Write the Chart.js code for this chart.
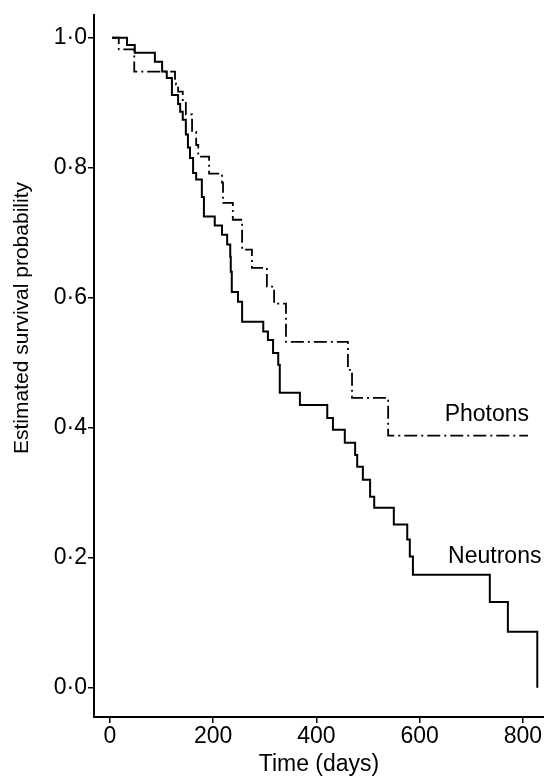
<!DOCTYPE html>
<html>
<head>
<meta charset="utf-8">
<script src="https://cdn.jsdelivr.net/npm/chart.js@4.4.1/dist/chart.umd.min.js"></script>
<style>
    body { margin: 0; background: #fff; }
    #wrap { width: 544px; height: 778px; }
</style>
</head>
<body>
<div id="wrap"><canvas id="survChart" width="544" height="778"></canvas></div>
<script>
// survival curves (time in days, estimated survival)
const neutronDays = [4, 33, 48, 87, 101, 110, 120, 132, 136, 141, 147, 151, 155, 161, 167, 178, 182, 203, 217, 227,
    233, 234, 236, 248, 256, 297, 306, 316, 326, 329, 368, 421, 432, 455, 475, 479, 490, 504, 512, 550,
    576, 581, 587, 736, 771, 828]
const neutronSurv = [1.0, 0.989, 0.977, 0.963, 0.948, 0.938, 0.912, 0.898, 0.886, 0.874, 0.851, 0.831, 0.815, 0.792, 0.782, 0.755, 0.725, 0.711, 0.697, 0.682,
    0.663, 0.640, 0.609, 0.594, 0.563, 0.548, 0.535, 0.515, 0.497, 0.454, 0.435, 0.415, 0.397, 0.377, 0.358, 0.340, 0.320, 0.294, 0.277, 0.251,
    0.228, 0.202, 0.174, 0.132, 0.086, 0.0]

const photonDays = [4, 17, 47, 126, 128, 132, 141, 147, 159, 167, 171, 192, 217, 219, 238, 256, 275, 304, 318, 341,
    461, 469, 539, 810]
const photonSurv = [1.0, 0.982, 0.948, 0.935, 0.928, 0.917, 0.902, 0.882, 0.855, 0.835, 0.817, 0.791, 0.777, 0.746, 0.72, 0.674, 0.646, 0.617, 0.591, 0.532,
    0.489, 0.446, 0.388, 0.388]

const seriesNames = ['Neutrons', 'Photons']
// where the curve names sit (days, survival), right aligned
const nameDays = [836, 812]
const nameSurv = [0.192, 0.41]

const xTicks = [0, 200, 400, 600, 800]
const yTicks = [0, 0.2, 0.4, 0.6, 0.8, 1.0]
const xTitle = 'Time (days)'
const yTitle = 'Estimated survival probability'

const FONT = 'Liberation Sans, Arial, Helvetica, sans-serif'

function toPoints(days, surv) {
    return days.map((d, i) => ({x: d, y: surv[i]}))
}

// curve names + rotated y title
const textPlugin = {
    id: 'textPlugin',
    afterDraw(chart) {
        let ctx = chart.ctx
        let xs = chart.scales.x
        let ys = chart.scales.y
        ctx.save()
        ctx.fillStyle = '#000'
        ctx.font = '23px ' + FONT
        ctx.textAlign = 'right'
        ctx.textBaseline = 'alphabetic'
        for (let i in seriesNames) {
            ctx.fillText(seriesNames[i], xs.getPixelForValue(nameDays[i]), ys.getPixelForValue(nameSurv[i]))
        }
        ctx.translate(22, 318)
        ctx.rotate(-Math.PI / 2)
        ctx.textAlign = 'center'
        ctx.textBaseline = 'middle'
        ctx.font = '21px ' + FONT
        ctx.fillText(yTitle, 0, 0)
        ctx.restore()
    }
}

const config = {
    type: 'line',
    data: {
        datasets: [
            {
                label: seriesNames[0],
                data: toPoints(neutronDays, neutronSurv),
                stepped: 'before',
                borderColor: '#000',
                borderWidth: 2,
                pointRadius: 0,
                fill: false
            },
            {
                label: seriesNames[1],
                data: toPoints(photonDays, photonSurv),
                stepped: 'before',
                borderColor: '#000',
                borderWidth: 1.8,
                borderDash: [13, 4, 2, 4],
                pointRadius: 0,
                fill: false
            }
        ]
    },
    options: {
        responsive: false,
        animation: false,
        devicePixelRatio: 1,
        layout: {padding: {top: 15, right: 0, bottom: 0, left: 0}},
        plugins: {
            legend: {display: false},
            tooltip: {enabled: false}
        },
        scales: {
            x: {
                type: 'linear',
                min: -31,
                max: 841,
                afterBuildTicks: (scale) => { scale.ticks = xTicks.map(v => ({value: v})) },
                afterFit: (scale) => { scale.height = 61 },
                border: {display: true, color: '#000', width: 2},
                grid: {display: true, drawOnChartArea: false, drawTicks: true, tickLength: 6, color: '#000', lineWidth: 1.5},
                ticks: {color: '#000', padding: 0, maxRotation: 0, font: {family: FONT, size: 23}},
                title: {display: true, text: xTitle, color: '#000', padding: {top: 0, bottom: 0}, font: {family: FONT, size: 23}}
            },
            y: {
                min: -0.045,
                max: 1.035,
                afterBuildTicks: (scale) => { scale.ticks = yTicks.map(v => ({value: v})) },
                afterFit: (scale) => { scale.width = 94 },
                border: {display: true, color: '#000', width: 2},
                grid: {display: true, drawOnChartArea: false, drawTicks: true, tickLength: 6, color: '#000', lineWidth: 1.5},
                ticks: {
                    color: '#000',
                    padding: 1,
                    font: {family: FONT, size: 23},
                    callback: (v) => v.toFixed(1).replace('.', '\u00b7')
                }
            }
        }
    },
    plugins: [textPlugin]
}

window.onload = () => {
    let ctx = document.getElementById('survChart').getContext('2d')
    new Chart(ctx, config)
}
</script>
</body>
</html>
